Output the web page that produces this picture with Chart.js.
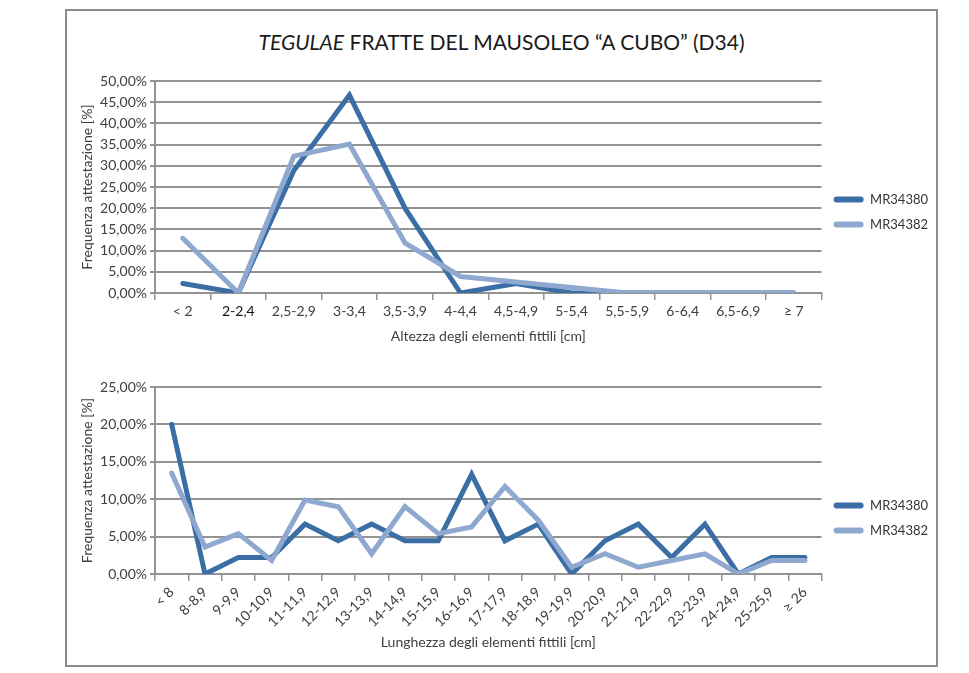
<!DOCTYPE html>
<html>
<head>
<meta charset="utf-8">
<script src="https://cdn.jsdelivr.net/npm/chart.js@4.4.1/dist/chart.umd.min.js"></script>
<style>
  body { margin: 0; background: #fff; font-family: Lato, sans-serif; }
  #frame { position: absolute; left: 65px; top: 9px; width: 869px; height: 654px; border: 2px solid #8c8c8c; }
  #title { position: absolute; left: 65px; top: 29px; width: 873px; text-align: center; font-size: 21px; color: #1a1a1a; }
  .box { position: absolute; left: 70px; width: 868px; height: 283px; }
</style>
</head>
<body>
<div id="frame"></div>
<div id="title"><i>TEGULAE</i> FRATTE DEL MAUSOLEO “A CUBO” (D34)</div>
<div class="box" style="top:60px"><canvas id="heightChart"></canvas></div>
<div class="box" style="top:366px"><canvas id="lengthChart"></canvas></div>
<script>
//series names
const seriesNames = ["MR34380", "MR34382"];
//top chart: height classes
const heightCats = ["< 2", "2-2,4", "2,5-2,9", "3-3,4", "3,5-3,9", "4-4,4", "4,5-4,9", "5-5,4", "5,5-5,9", "6-6,4", "6,5-6,9", "≥ 7"];
const heightMR34380 = [2.22, 0, 28.89, 46.67, 20, 0, 2.22, 0, 0, 0, 0, 0];
const heightMR34382 = [12.9, 0, 32.3, 35.1, 11.8, 3.9, 2.6, 1.3, 0, 0, 0, 0];
//bottom chart: length classes
const lengthCats = ["< 8", "8-8,9", "9-9,9", "10-10,9", "11-11,9", "12-12,9", "13-13,9", "14-14,9", "15-15,9", "16-16,9", "17-17,9", "18-18,9", "19-19,9", "20-20,9", "21-21,9", "22-22,9", "23-23,9", "24-24,9", "25-25,9", "≥ 26"];
const lengthMR34380 = [20, 0, 2.22, 2.22, 6.67, 4.44, 6.67, 4.44, 4.44, 13.33, 4.44, 6.67, 0, 4.44, 6.67, 2.22, 6.67, 0, 2.22, 2.22];
const lengthMR34382 = [13.5, 3.6, 5.4, 1.8, 9.9, 9.0, 2.7, 9.0, 5.4, 6.3, 11.7, 7.2, 0.9, 2.7, 0.9, 1.8, 2.7, 0, 1.8, 1.8];
//y axis ranges (percent)
const heightMax = 50;
const lengthMax = 25;
const yStep = 5;

const darkBlue = "#3a6ea5";
const lightBlue = "#8ea8cf";
const gridGray = "#939393";
const textGray = "#404040";

const makeChart = (id, cats, s1, s2, yMax, xTitle, rotated) => {
  return new Chart(document.getElementById(id), {
    type: "line",
    data: {
      labels: cats,
      datasets: [
        { label: seriesNames[0], data: s1, borderColor: darkBlue, backgroundColor: darkBlue, order: 1 },
        { label: seriesNames[1], data: s2, borderColor: lightBlue, backgroundColor: lightBlue, order: 0 },
      ],
    },
    options: {
      responsive: true,
      maintainAspectRatio: false,
      animation: false,
      layout: { padding: { top: 21, bottom: 0, left: 5, right: 0 } },
      elements: {
        line: { borderWidth: 5, tension: 0, borderCapStyle: "round" },
        point: { radius: 0, hoverRadius: 0 },
      },
      plugins: {
        tooltip: { enabled: false },
        legend: {
          position: "right",
          labels: {
            boxWidth: 30,
            boxHeight: 6,
            padding: 12,
            color: "#333",
            font: { family: "Lato", size: 13 },
            useBorderRadius: true,
            borderRadius: 3,
            generateLabels: (chart) =>
              Chart.defaults.plugins.legend.labels.generateLabels(chart)
                .map((item) => ({ ...item, lineWidth: 0, fillStyle: item.strokeStyle }))
                .sort((a, b) => a.datasetIndex - b.datasetIndex),
          },
        },
      },
      scales: {
        x: {
          offset: true,
          grid: { offset: true, drawOnChartArea: false, drawTicks: true, tickLength: 7, color: gridGray, lineWidth: 1.5 },
          border: { color: gridGray, width: 2 },
          ticks: {
            autoSkip: false,
            maxRotation: rotated ? 45 : 0,
            minRotation: rotated ? 45 : 0,
            padding: 3,
            color: (c) => (!rotated && c.index === 1 ? "#111" : textGray),
            font: { family: "Lato", size: 14 },
          },
          title: { display: true, text: xTitle, color: textGray, font: { family: "Lato", size: 14, lineHeight: 1 }, padding: { top: 4, bottom: 0 } },
          afterFit: (scale) => { scale.height = rotated ? 75 : 50; },
        },
        y: {
          min: 0,
          max: yMax,
          grid: { color: gridGray, lineWidth: 2, tickLength: 5 },
          border: { color: gridGray, width: 2 },
          ticks: {
            stepSize: yStep,
            padding: 3,
            color: textGray,
            font: { family: "Lato", size: 14 },
            callback: (v) => v.toFixed(2).replace(".", ",") + "%",
          },
          title: { display: true, text: "Frequenza attestazione [%]", color: textGray, font: { family: "Lato", size: 14, lineHeight: 1 }, padding: { top: 5, bottom: 4 } },
          afterFit: (scale) => { scale.width = 80; },
        },
      },
    },
  });
};

makeChart("heightChart", heightCats, heightMR34380, heightMR34382, heightMax, "Altezza degli elementi fittili [cm]", false);
makeChart("lengthChart", lengthCats, lengthMR34380, lengthMR34382, lengthMax, "Lunghezza degli elementi fittili [cm]", true);
</script>
</body>
</html>
